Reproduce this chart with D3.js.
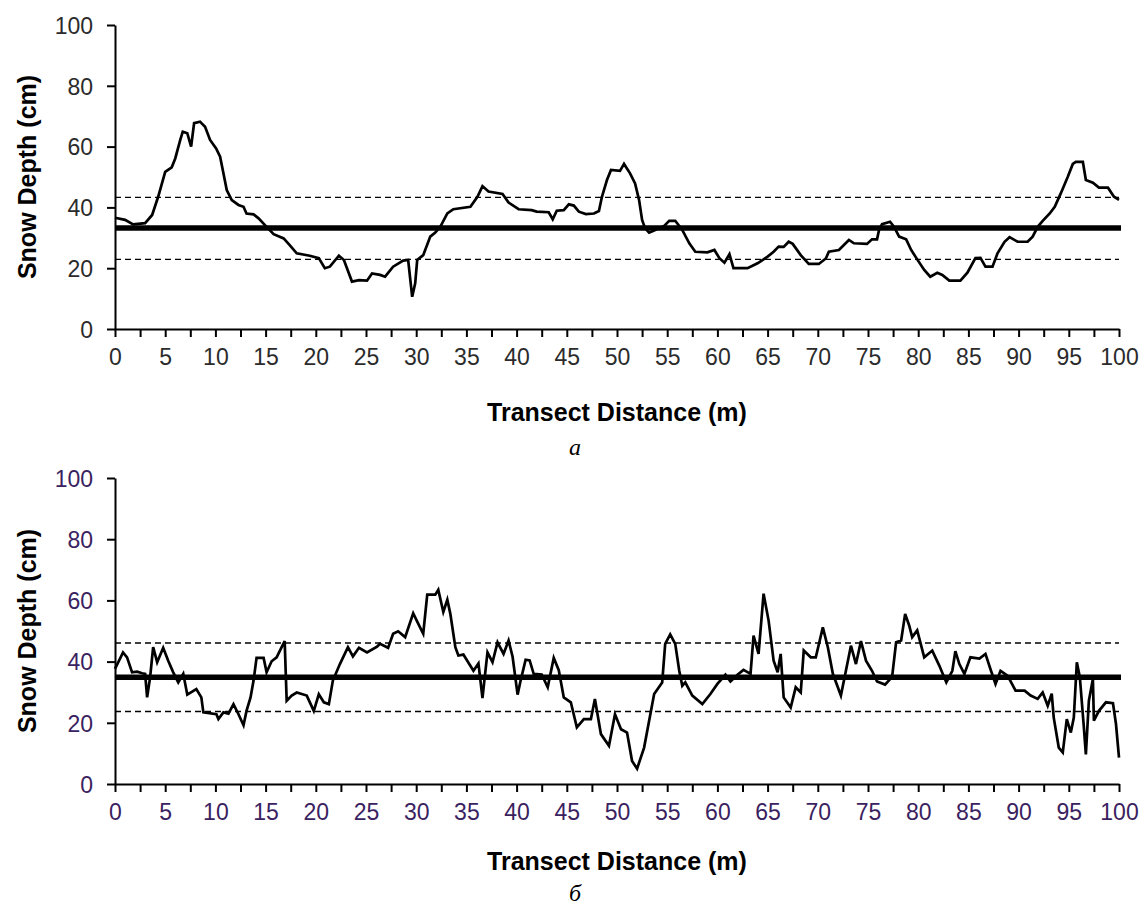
<!DOCTYPE html>
<html><head><meta charset="utf-8">
<script src="https://cdn.jsdelivr.net/npm/d3@7"></script>
<style>body{margin:0;background:#fff}</style>
</head><body>
<svg id="fig" width="1145" height="909"></svg>
<script>
// Transect a: [distance (m), snow depth (cm)]
const transectA = [[0,36.6],[1.0,35.9],[1.8,34.4],[3.0,34.8],[3.7,37.5],[4.3,43.5],[5.0,51.7],[5.65,53.2],[6.0,56.1],[6.5,62.2],[6.75,64.9],[7.2,64.4],[7.58,60.0],[7.88,67.7],[8.47,68.2],[8.97,66.5],[9.47,62.2],[10.07,59.4],[10.47,56.7],[10.8,51.2],[11.13,45.7],[11.63,42.4],[12.3,40.8],[12.8,40.2],[13.1,38.0],[13.8,37.7],[14.3,36.4],[15.1,33.6],[15.8,31.2],[16.8,29.8],[17.4,27.6],[18.1,24.9],[19.4,24.1],[20.3,23.3],[20.9,20.0],[21.4,20.5],[22.3,24.1],[22.8,22.7],[23.6,15.6],[24.3,16.1],[25.1,15.9],[25.6,18.3],[26.4,17.8],[26.9,17.2],[27.7,20.5],[28.7,22.5],[29.2,22.7],[29.6,10.6],[29.9,15.0],[30.1,22.7],[30.7,24.3],[31.4,30.4],[31.9,31.7],[32.4,33.6],[33.1,38.0],[33.7,39.4],[35.4,40.2],[36.1,43.5],[36.6,47.0],[37.2,45.2],[38.6,44.4],[39.2,41.6],[40.2,39.4],[41.5,39.1],[42.0,38.6],[43.2,38.4],[43.6,36.1],[44.0,38.9],[44.7,39.1],[45.2,41.0],[45.7,40.6],[46.2,38.6],[46.9,37.8],[47.7,38.0],[48.2,38.8],[48.5,43.5],[49.0,49.0],[49.4,52.3],[50.3,52.0],[50.7,54.3],[51.3,51.2],[51.8,47.9],[52.2,42.4],[52.5,35.9],[52.8,33.1],[53.2,31.7],[53.8,32.6],[54.7,33.9],[55.2,35.6],[55.8,35.6],[56.5,32.6],[57.2,28.2],[57.8,25.4],[59.0,25.2],[59.7,26.0],[60.2,23.3],[60.7,21.8],[61.2,24.6],[61.6,20.0],[63.0,20.0],[64.0,21.6],[65.0,23.8],[65.6,25.4],[66.1,27.1],[66.6,27.0],[67.1,28.7],[67.5,28.0],[68.3,24.3],[69.1,21.4],[70.1,21.4],[70.8,23.2],[71.1,25.4],[72.1,26.0],[73.1,29.3],[73.6,28.2],[74.9,28.0],[75.4,29.5],[75.9,29.5],[76.1,32.6],[76.4,34.5],[77.2,35.3],[77.6,33.6],[78.1,30.4],[78.8,29.5],[79.3,26.0],[79.9,22.9],[80.6,19.4],[81.2,17.2],[81.9,18.5],[82.4,17.8],[83.1,15.9],[84.2,15.9],[84.9,18.5],[85.7,23.3],[86.2,23.4],[86.7,20.5],[87.4,20.5],[87.9,24.9],[88.6,28.7],[89.1,30.2],[89.9,28.7],[90.9,28.7],[91.4,30.4],[91.9,33.6],[92.4,35.6],[93.1,38.0],[93.6,40.2],[94.2,44.6],[94.9,50.1],[95.4,54.3],[95.7,55.0],[96.4,55.0],[96.7,49.0],[97.4,48.1],[98.0,46.5],[98.9,46.5],[99.5,43.5],[100,42.5]];

// Transect б: [distance (m), snow depth (cm)]
const transectB = [[0,37.6],[0.8,43.0],[1.2,41.4],[1.7,36.5],[2.2,36.7],[2.7,36.2],[3.0,36.0],[3.2,28.3],[3.5,34.9],[3.8,44.7],[4.2,39.8],[4.8,44.5],[5.3,40.3],[5.8,36.5],[6.3,33.2],[6.8,36.0],[7.2,29.2],[8.1,31.0],[8.6,28.3],[8.8,23.4],[10.1,22.8],[10.3,21.2],[10.8,23.4],[11.3,23.0],[11.8,26.1],[12.3,22.8],[12.8,19.2],[13.1,23.9],[13.5,28.3],[13.8,33.8],[14.1,41.2],[14.8,41.2],[15.1,36.5],[15.6,40.1],[16.1,41.4],[16.6,44.7],[16.9,46.7],[17.1,27.2],[17.6,28.9],[18.1,29.9],[19.1,28.9],[19.8,23.9],[20.3,29.3],[20.8,26.7],[21.3,26.1],[21.7,33.8],[22.4,39.2],[23.2,44.7],[23.7,41.7],[24.3,44.5],[25.1,43.0],[26.1,44.9],[26.4,45.8],[27.2,44.5],[27.7,49.1],[28.2,49.9],[28.9,48.0],[29.7,55.8],[30.2,52.4],[30.7,49.1],[31.1,61.9],[31.9,61.9],[32.2,63.5],[32.7,56.2],[33.1,60.2],[33.4,55.6],[33.9,44.7],[34.2,42.0],[34.7,42.3],[35.7,37.0],[36.2,39.4],[36.6,28.1],[37.1,43.0],[37.6,39.8],[38.1,46.3],[38.7,42.5],[39.2,46.9],[39.6,41.6],[40.1,29.2],[40.4,33.8],[40.9,40.6],[41.3,40.4],[41.7,36.0],[42.5,35.8],[43.1,31.6],[43.7,41.2],[44.2,37.2],[44.7,28.3],[45.4,26.7],[46.0,18.5],[46.7,21.2],[47.4,21.2],[47.8,27.8],[48.4,16.3],[49.2,12.5],[49.8,22.8],[50.4,17.9],[51.0,16.8],[51.5,7.5],[52.0,5.0],[52.7,11.9],[53.7,29.4],[54.5,33.2],[54.8,45.8],[55.3,48.9],[55.8,45.8],[56.2,37.0],[56.5,32.1],[56.8,33.2],[57.5,28.9],[58.5,26.1],[59.3,29.4],[60.0,32.7],[60.8,35.7],[61.3,33.5],[62.0,35.7],[62.6,37.3],[63.3,36.0],[63.6,48.5],[64.1,42.5],[64.6,62.2],[65.1,53.4],[65.6,40.3],[66.0,36.5],[66.3,42.5],[66.6,28.3],[67.3,25.0],[67.8,31.6],[68.3,29.9],[68.6,43.6],[69.3,41.4],[69.8,41.4],[70.5,51.2],[71.0,44.7],[71.5,36.0],[72.3,28.9],[72.8,37.0],[73.3,45.2],[73.8,39.2],[74.3,46.7],[74.8,40.3],[75.4,37.0],[75.9,33.5],[76.7,32.5],[77.4,35.0],[77.8,46.3],[78.3,46.9],[78.7,55.6],[79.1,51.8],[79.4,48.0],[79.9,50.2],[80.6,41.4],[81.4,43.6],[82.1,38.7],[82.8,33.2],[83.4,37.0],[83.7,43.4],[84.1,39.2],[84.6,36.0],[85.2,41.4],[86.1,41.0],[86.7,42.5],[87.2,37.5],[87.7,32.7],[88.2,37.0],[88.9,35.4],[89.7,30.5],[90.6,30.5],[91.2,28.9],[91.9,27.8],[92.4,29.9],[92.9,25.6],[93.3,29.5],[93.5,21.7],[94.0,11.9],[94.4,10.3],[94.8,21.2],[95.2,16.8],[95.5,21.7],[95.8,39.8],[96.1,34.9],[96.5,18.5],[96.7,9.7],[97.0,27.2],[97.4,34.3],[97.5,20.7],[98.0,23.9],[98.7,26.7],[99.4,26.4],[99.7,19.6],[100,8.6]];

// Mean and mean ± one standard deviation for each transect
const meanA = 33.2, bandA = [22.9, 43.3];
const meanB = 34.9, bandB = [23.7, 46.1];

const yTickValues = [0, 20, 40, 60, 80, 100];
const xLabelValues = [0,5,10,15,20,25,30,35,40,45,50,55,60,65,70,75,80,85,90,95,100];
const xMinorStep = 2.5;

const svg = d3.select("#fig");

function panel(data, mean, band, opt) {
  const x = d3.scaleLinear().domain([0, 100]).range([115, 1119]);
  const y = d3.scaleLinear().domain([0, 100]).range([opt.bottom, opt.top]);
  const g = svg.append("g");

  // reference lines
  g.selectAll("line.band").data(band).join("line")
    .attr("x1", x(0)).attr("x2", x(100))
    .attr("y1", d => y(d)).attr("y2", d => y(d))
    .attr("stroke", "#000").attr("stroke-width", 1.4)
    .attr("stroke-dasharray", "6,4");
  g.append("line")
    .attr("x1", x(0)).attr("x2", x(100) + 2)
    .attr("y1", y(mean)).attr("y2", y(mean))
    .attr("stroke", "#000").attr("stroke-width", 5.5);

  // snow depth trace
  const line = d3.line().x(d => x(d[0])).y(d => y(d[1]));
  g.append("path").datum(data)
    .attr("d", line)
    .attr("fill", "none").attr("stroke", "#000")
    .attr("stroke-width", 2.7).attr("stroke-linejoin", "miter");

  // axes
  const yAxis = d3.axisLeft(y).tickValues(yTickValues).tickSize(8).tickSizeOuter(0).tickPadding(14);
  const ya = g.append("g").attr("transform", `translate(${x(0)},0)`).call(yAxis);
  const xMinor = d3.range(0, 100 + 0.001, xMinorStep);
  const xAxis = d3.axisBottom(x).tickValues(xMinor).tickSize(8).tickSizeOuter(0).tickPadding(12)
    .tickFormat(d => xLabelValues.includes(d) ? d : "");
  const xa = g.append("g").attr("transform", `translate(0,${y(0)})`).call(xAxis);

  [ya, xa].forEach(a => {
    a.select(".domain").attr("stroke", "#000").attr("stroke-width", 2);
    a.selectAll(".tick line").attr("stroke", "#000").attr("stroke-width", 2);
    a.selectAll(".tick text")
      .attr("fill", opt.labelColor)
      .style("font-family", "'Liberation Sans', Arial, sans-serif")
      .style("font-size", "23px");
  });
  ya.selectAll(".tick text").attr("dy", "0.36em");

  // axis titles
  g.append("text")
    .attr("transform", `translate(36,${(opt.top + opt.bottom) / 2}) rotate(-90)`)
    .attr("text-anchor", "middle")
    .style("font-family", "'Liberation Sans', Arial, sans-serif")
    .style("font-weight", "bold").style("font-size", "25px")
    .text("Snow Depth (cm)");
  g.append("text")
    .attr("x", 617).attr("y", opt.titleY)
    .attr("text-anchor", "middle")
    .style("font-family", "'Liberation Sans', Arial, sans-serif")
    .style("font-weight", "bold").style("font-size", "25px")
    .text("Transect Distance (m)");
  g.append("text")
    .attr("x", 575).attr("y", opt.letterY)
    .attr("text-anchor", "middle")
    .style("font-family", "'Liberation Serif', 'Times New Roman', serif")
    .style("font-style", "italic").style("font-size", "24px")
    .text(opt.letter);
}

panel(transectA, meanA, bandA, {top: 25, bottom: 329, labelColor: "#2b2b2b", titleY: 421, letterY: 455, letter: "a"});
panel(transectB, meanB, bandB, {top: 478, bottom: 784, labelColor: "#3a2260", titleY: 870, letterY: 901, letter: "б"});
</script>
</body></html>
